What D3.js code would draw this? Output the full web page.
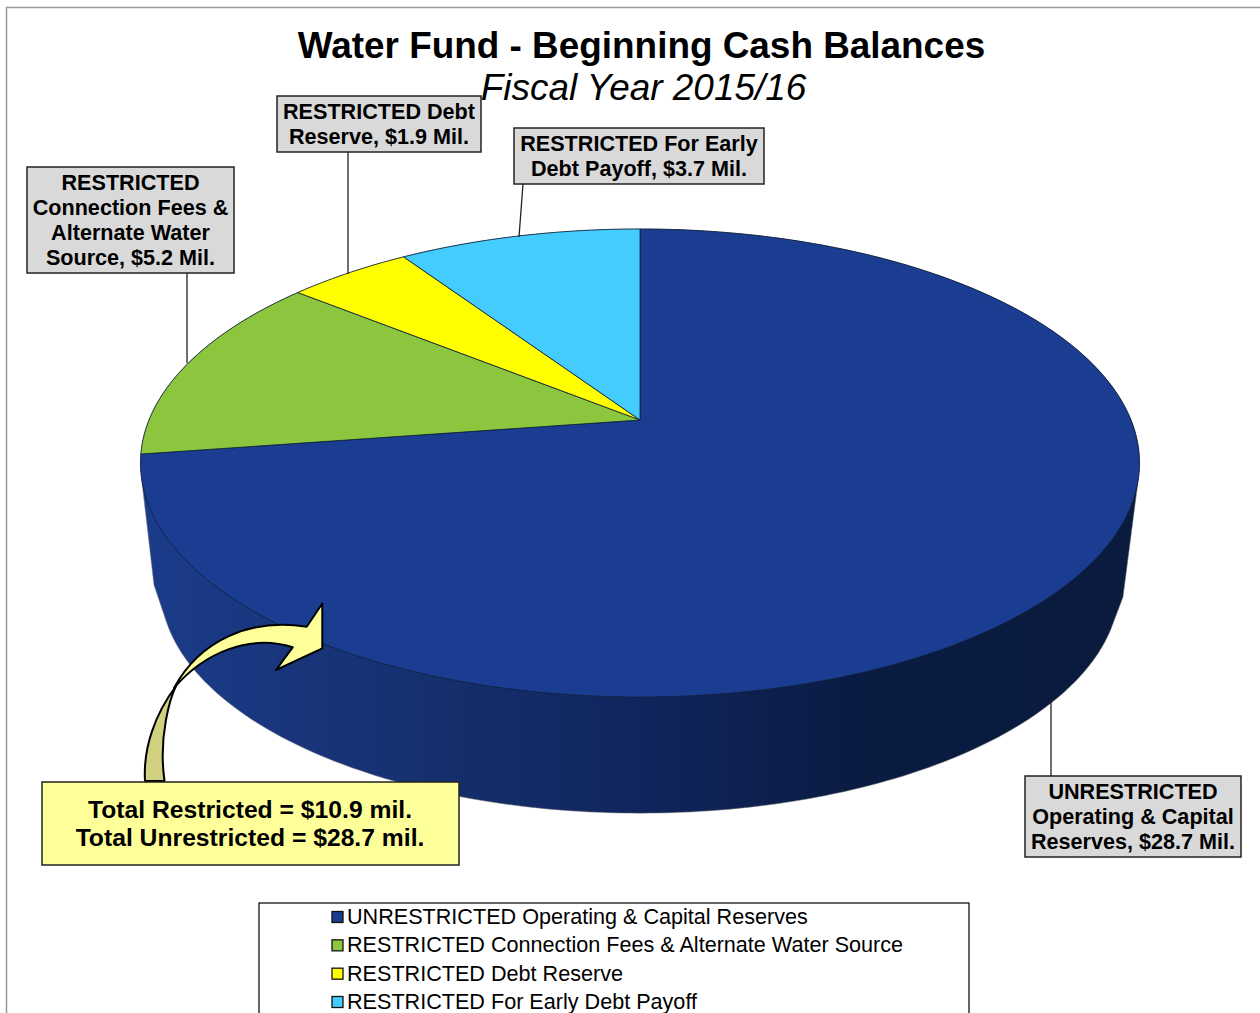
<!DOCTYPE html>
<html>
<head>
<meta charset="utf-8">
<script src="https://cdn.jsdelivr.net/npm/d3@7"></script>
<style>
  html, body { margin: 0; padding: 0; background: #fff; overflow: hidden; }
  svg { display: block; }
  text { font-family: "Liberation Sans", Arial, sans-serif; fill: #000; }
</style>
</head>
<body>
<div id="chart"></div>
<script>
// values in $ millions, clockwise from 12 o'clock
const categories = [
  'UNRESTRICTED Operating & Capital Reserves',
  'RESTRICTED Connection Fees & Alternate Water Source',
  'RESTRICTED Debt Reserve',
  'RESTRICTED For Early Debt Payoff'
];
const values = [28.7, 5.2, 1.9, 3.7];
const colors = ['#1a3d91', '#8cc63f', '#ffff00', '#45ccff'];

const labelLines = [
  ['UNRESTRICTED', 'Operating & Capital', 'Reserves, $28.7 Mil.'],
  ['RESTRICTED', 'Connection Fees &', 'Alternate Water', 'Source, $5.2 Mil.'],
  ['RESTRICTED Debt', 'Reserve, $1.9 Mil.'],
  ['RESTRICTED For Early', 'Debt Payoff, $3.7 Mil.']
];
const titleText = 'Water Fund - Beginning Cash Balances';
const subtitleText = 'Fiscal Year 2015/16';
const totalLines = ['Total Restricted = $10.9 mil.', 'Total Unrestricted = $28.7 mil.'];

// label box [x, y, w, h] and leader line [x1, y1, x2, y2], same order as categories
const labelBoxes = [[1025, 776, 216, 81], [27, 167, 207, 106], [277, 96, 204, 56], [514, 128, 250, 56]];
const leaders = [[1051, 700, 1051, 776], [187, 273, 187, 363], [348, 152, 348, 274], [523, 184, 519, 237]];

const width = 1260, height = 1013;
const svg = d3.select('#chart').append('svg').attr('width', width).attr('height', height);

// frame of the chart, only the top and left show
svg.append('path').attr('d', `M6.5,${height}V7.5H${width}`).attr('fill', 'none').attr('stroke', '#999').attr('stroke-width', 1.5);

// title
svg.append('text').attr('x', 641.5).attr('y', 58).attr('text-anchor', 'middle')
  .style('font-size', '36.9px').style('font-weight', 'bold').text(titleText);
svg.append('text').attr('x', 643.5).attr('y', 100).attr('text-anchor', 'middle')
  .style('font-size', '36.9px').style('font-style', 'italic').text(subtitleText);

// perspective view of a disc: back edge is squeezed by k
const k = 0.1837;
function project(angle, sx, sy, x0, y0) {
  const u = Math.sin(angle), v = -Math.cos(angle), w = 1 - k * v;
  return [x0 + sx * 491 * u / w, y0 + sy * 226.1 * v / w];
}
const topAt = a => project(a, 1, 1, 640, 420);
const bottomAt = a => project(a, 0.96, 0.97, 640, 544.5);

const full = d3.range(0, 2 * Math.PI, Math.PI / 180);

// side wall, its outline has a kink on each side where the straight part ends
const wallCorners = [[154, 585], [1123, 597]];
const grad = svg.append('defs').append('linearGradient').attr('id', 'wall')
  .attr('gradientUnits', 'userSpaceOnUse').attr('x1', 140).attr('x2', 1140).attr('y1', 0).attr('y2', 0);
[[0, '#1b3c8b'], [0.28, '#16306f'], [0.5, '#10255c'], [0.72, '#0a1b42'], [1, '#0a1b3e']].forEach(s => {
  grad.append('stop').attr('offset', s[0]).attr('stop-color', s[1]);
});
const hull = d3.polygonHull(full.map(topAt).concat(full.map(bottomAt), wallCorners));
svg.append('path').attr('d', 'M' + hull.join('L') + 'Z').attr('fill', 'url(#wall)').attr('stroke', '#777').attr('stroke-width', 0.5);

// top face slices
const pie = d3.pie().sort(null).value(d => d);
const line = d3.line();
svg.selectAll('path.slice').data(pie(values)).join('path').attr('class', 'slice')
  .attr('fill', (d, i) => colors[i])
  .attr('stroke', '#10203a').attr('stroke-width', 0.8).attr('stroke-linejoin', 'round')
  .attr('d', d => {
    const steps = d3.range(d.startAngle, d.endAngle, Math.PI / 180).concat([d.endAngle]);
    return line([[640, 420]].concat(steps.map(topAt))) + 'Z';
  });

// leader lines
svg.selectAll('line.leader').data(leaders).join('line').attr('class', 'leader')
  .attr('x1', d => d[0]).attr('y1', d => d[1]).attr('x2', d => d[2]).attr('y2', d => d[3])
  .attr('stroke', '#222').attr('stroke-width', 1.3);

// data labels
const lbl = svg.selectAll('g.label').data(labelBoxes).join('g').attr('class', 'label');
lbl.append('rect').attr('x', d => d[0]).attr('y', d => d[1]).attr('width', d => d[2]).attr('height', d => d[3])
  .attr('fill', '#d9d9d9').attr('stroke', '#222').attr('stroke-width', 1.5);
lbl.each(function (d, i) {
  const g = d3.select(this), n = labelLines[i].length;
  labelLines[i].forEach((t, j) => {
    g.append('text').attr('x', d[0] + d[2] / 2)
      .attr('y', d[1] + d[3] / 2 + 7 + (j - (n - 1) / 2) * 25)
      .attr('text-anchor', 'middle').style('font-size', '21.6px').style('font-weight', 'bold').text(t);
  });
});

// curved arrow from the totals box up to the restricted slices
svg.append('path')
  .attr('d', 'M145,781C143,748 155,714 176,686C171,696 158,735 164.5,781Z')
  .attr('fill', '#d0d080').attr('stroke', '#000').attr('stroke-width', 2).attr('stroke-linejoin', 'round');
svg.append('path')
  .attr('d', 'M174,688C200,640 250,618 306.7,626.7L322.3,603.5V648.3L276,670L292.7,647.3C250,634 205,652 174,688Z')
  .attr('fill', '#ffff99').attr('stroke', '#000').attr('stroke-width', 2).attr('stroke-linejoin', 'round');

// totals box
svg.append('rect').attr('x', 42).attr('y', 782).attr('width', 417).attr('height', 83)
  .attr('fill', '#ffff99').attr('stroke', '#222').attr('stroke-width', 1.5);
svg.selectAll('text.total').data(totalLines).join('text').attr('class', 'total')
  .attr('x', 250).attr('y', (d, i) => 817.5 + i * 28)
  .attr('text-anchor', 'middle').style('font-size', '24.7px').style('font-weight', 'bold').text(d => d);

// legend, cut off by the bottom of the picture
svg.append('rect').attr('x', 259).attr('y', 903).attr('width', 710).attr('height', 130)
  .attr('fill', '#fff').attr('stroke', '#000').attr('stroke-width', 1.2);
const y = d3.scalePoint().domain(categories).range([917, 1002]);
const legend = svg.selectAll('g.legend').data(categories).join('g').attr('class', 'legend');
legend.append('rect').attr('x', 332).attr('y', d => y(d) - 5.5).attr('width', 11).attr('height', 11)
  .attr('fill', (d, i) => colors[i]).attr('stroke', '#111').attr('stroke-width', 1.3);
legend.append('text').attr('x', 347).attr('y', d => y(d) + 7).style('font-size', '21.6px').text(d => d);
</script>
</body>
</html>
